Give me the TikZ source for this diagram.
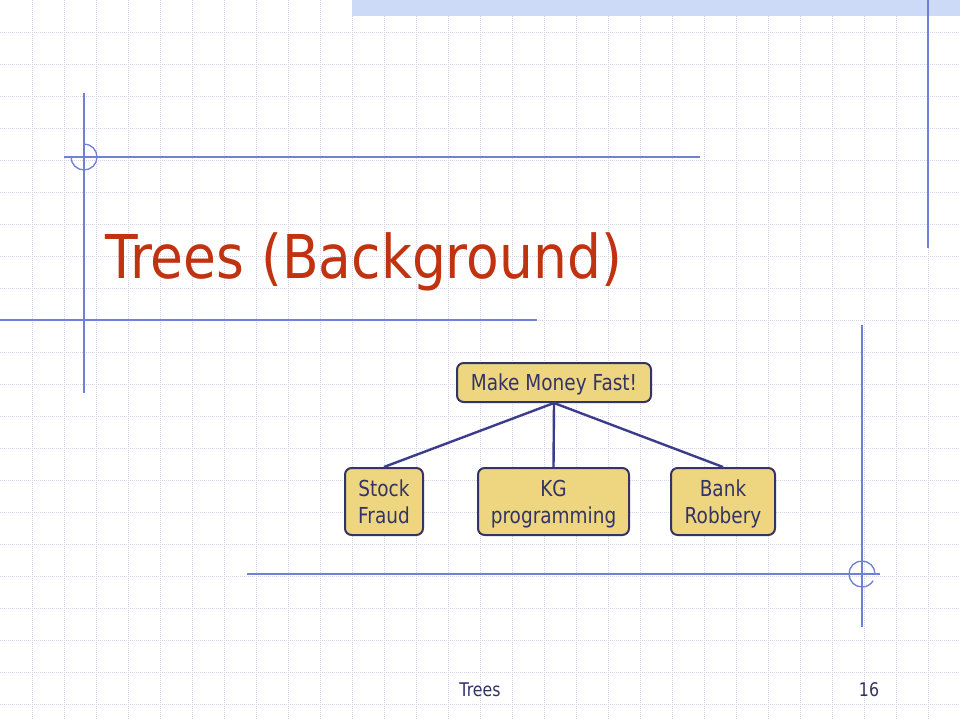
\documentclass[tikz,border=0pt]{standalone}
\usepackage{fontspec}
\setmainfont{DejaVu Sans}[FakeStretch=0.84]
\newfontfamily\titlefont{DejaVu Sans}[FakeStretch=0.885]
\newcommand\mystrut{\rule[-3.85pt]{0pt}{20pt}}
\definecolor{gridc}{HTML}{D4D4EA}
\definecolor{decoc}{HTML}{7080D8}
\definecolor{barc}{HTML}{CCDAF8}
\definecolor{titlec}{HTML}{C03210}
\definecolor{navy}{HTML}{333366}
\definecolor{boxfill}{HTML}{EED680}
\definecolor{edgec}{HTML}{3C3C8C}
\tikzset{
  gridline/.style={gridc, line width=0.6pt, dash pattern=on 0.75pt off 0.75pt},
  deco/.style={decoc, line width=1pt},
  box/.style={draw=navy, fill=boxfill, line width=1.5pt, rounded corners=5pt,
    text=navy, font=\fontsize{16.5}{20}\selectfont, align=center, inner sep=0pt},
  edge/.style={edgec, line width=1.8pt},
}
\begin{document}
\begin{tikzpicture}[x=0.75pt, y=-0.75pt]
\useasboundingbox (0,0) rectangle (960,720);
\fill[white] (0,0) rectangle (960,720);
\fill[barc] (352,0) rectangle (960,16);
\foreach \i in {1,...,29} \draw[gridline] (32*\i,0) -- (32*\i,720);
\foreach \j in {1,...,22} \draw[gridline] (0,32*\j) -- (960,32*\j);
% decorations
\draw[deco] (84,93) -- (84,393);
\draw[deco] (64,157) -- (700,157);
\draw[deco] (71,157) arc[start angle=180, end angle=-90, radius=13];
\draw[deco] (0,320) -- (537,320);
\draw[deco] (928,0) -- (928,248);
\draw[deco] (862,325) -- (862,627);
\draw[deco] (247,574) -- (880,574);
\draw[deco] (875,574) arc[start angle=0, end angle=-329, radius=13];
% title
\node[anchor=base west, inner sep=0pt, text=titlec, font=\titlefont\fontsize{45.3}{54}\selectfont] (title) at (105,279) {Trees (Background)};
% tree
\node[box, minimum width=145.5pt, minimum height=29.25pt] (root) at (554,382.5) {\mystrut Make Money Fast!};
\node[box, minimum width=58.5pt, minimum height=50.25pt] (stock) at (384,501.5) {\mystrut Stock\\\mystrut Fraud};
\node[box, minimum width=113.25pt, minimum height=50.25pt] (kg) at (553.5,501.5) {\mystrut KG\\\mystrut programming};
\node[box, minimum width=78pt, minimum height=50.25pt] (bank) at (723,501.5) {\mystrut Bank\\\mystrut Robbery};
\draw[edge] (root.south) -- (stock.north);
\draw[edge] (root.south) -- (kg.north);
\draw[edge] (root.south) -- (bank.north);
% footer
\node[anchor=base, inner sep=0pt, text=navy, font=\fontsize{14.1}{17}\selectfont] (foot) at (480,696) {Trees};
\node[anchor=base, inner sep=0pt, text=navy, font=\fontsize{14.1}{17}\selectfont] (page) at (869,696) {16};
\end{tikzpicture}
\end{document}
